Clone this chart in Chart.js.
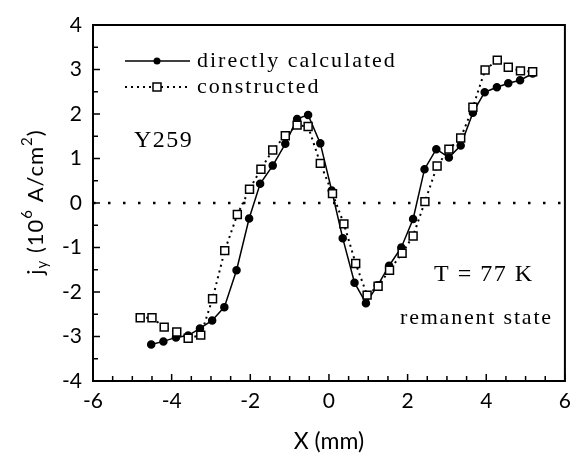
<!DOCTYPE html>
<html>
<head>
<meta charset="utf-8">
<script src="https://cdn.jsdelivr.net/npm/chart.js@4"></script>
<style>
  html, body { margin: 0; padding: 0; background: #fff; }
  #wrap { width: 579px; height: 455px; }
</style>
</head>
<body>
<div id="wrap"><canvas id="jyChart" width="579" height="455"></canvas></div>
<script>
// current density profile across the sample, Y259 at 77 K
const xDirect = [-4.52, -4.21, -3.89, -3.58, -3.28, -2.97, -2.66, -2.35, -2.03, -1.75, -1.43,
  -1.11, -0.81, -0.53, -0.22, 0.07, 0.35, 0.65, 0.94, 1.24, 1.53, 1.84, 2.14, 2.43, 2.73,
  3.05, 3.35, 3.66, 3.96, 4.27, 4.56, 4.86, 5.18];
const jDirect = [-3.18, -3.11, -3.02, -2.98, -2.82, -2.64, -2.34, -1.51, -0.35, 0.43, 0.84,
  1.33, 1.89, 1.98, 1.34, 0.28, -0.79, -1.79, -2.25, -1.85, -1.41, -1.0, -0.36, 0.76, 1.21,
  1.02, 1.29, 2.03, 2.49, 2.60, 2.69, 2.76, 2.91];

const xConstructed = [-4.80, -4.50, -4.19, -3.87, -3.58, -3.26, -2.96, -2.65, -2.33, -2.02,
  -1.73, -1.43, -1.11, -0.81, -0.53, -0.22, 0.09, 0.38, 0.68, 0.97, 1.25, 1.54, 1.86, 2.14,
  2.44, 2.75, 3.05, 3.35, 3.66, 3.97, 4.28, 4.56, 4.87, 5.18];
const jConstructed = [-2.58, -2.58, -2.79, -2.90, -3.04, -2.97, -2.15, -1.07, -0.26, 0.31,
  0.76, 1.19, 1.51, 1.75, 1.72, 0.89, 0.21, -0.47, -1.36, -2.07, -1.87, -1.51, -1.13, -0.74,
  0.03, 0.83, 1.21, 1.46, 2.15, 2.99, 3.21, 3.05, 2.97, 2.95];

const xRange = [-6, 6];
const yRange = [-4, 4];
const seriesNames = ["directly calculated", "constructed"];

const toPoints = (xs, ys) => xs.map((x, i) => ({ x: x, y: ys[i] }));

const serif = "'Liberation Serif', 'DejaVu Serif', serif";
const sans = "Lato, 'DejaVu Sans', sans-serif";

function spacedText(ctx, text, x, y, font, spacing) {
  ctx.font = font;
  ctx.letterSpacing = spacing + "px";
  ctx.fillText(text, x, y);
  ctx.letterSpacing = "0px";
}

// frame, inward ticks, legend, notes and the y title
const decorations = {
  id: "decorations",
  afterDraw(chart) {
    const ctx = chart.ctx;
    const a = chart.chartArea;
    const xs = chart.scales.x;
    const ys = chart.scales.y;
    ctx.save();
    ctx.strokeStyle = "#000";
    ctx.lineWidth = 2;
    ctx.strokeRect(a.left, a.top, a.right - a.left, a.bottom - a.top);

    ctx.lineWidth = 1.5;
    ctx.beginPath();
    for (let v = xRange[0]; v <= xRange[1]; v += 0.5) {
      const px = xs.getPixelForValue(v);
      const len = v % 2 === 0 ? 7 : 5;
      ctx.moveTo(px, a.bottom);
      ctx.lineTo(px, a.bottom - len);
    }
    for (let v = yRange[0]; v <= yRange[1]; v += 0.5) {
      const py = ys.getPixelForValue(v);
      const len = Number.isInteger(v) ? 7 : 5;
      ctx.moveTo(a.left, py);
      ctx.lineTo(a.left + len, py);
    }
    ctx.stroke();

    // legend
    const lx0 = 125, lx1 = 190, lm = 157;
    ctx.lineWidth = 1.5;
    ctx.setLineDash([]);
    ctx.beginPath();
    ctx.moveTo(lx0, 61);
    ctx.lineTo(lx1, 61);
    ctx.stroke();
    ctx.beginPath();
    ctx.arc(lm, 61, 3.5, 0, Math.PI * 2);
    ctx.fillStyle = "#000";
    ctx.fill();

    ctx.lineWidth = 2;
    ctx.setLineDash([2, 4]);
    ctx.beginPath();
    ctx.moveTo(lx0, 87);
    ctx.lineTo(lx1, 87);
    ctx.stroke();
    ctx.setLineDash([]);
    ctx.fillStyle = "#fff";
    ctx.fillRect(lm - 4, 83, 8, 8);
    ctx.lineWidth = 1.5;
    ctx.strokeRect(lm - 4, 83, 8, 8);

    ctx.fillStyle = "#000";
    ctx.textAlign = "left";
    ctx.textBaseline = "middle";
    spacedText(ctx, seriesNames[0], 197, 61, "22px " + serif, 2);
    spacedText(ctx, seriesNames[1], 197, 87, "22px " + serif, 2);

    spacedText(ctx, "Y259", 134, 141, "24px " + serif, 1.5);
    spacedText(ctx, "T = 77 K", 434, 275, "24px " + serif, 1.5);
    spacedText(ctx, "remanent state", 400, 318, "22px " + serif, 1.8);

    // y title with subscript and superscripts
    ctx.translate(36, 202);
    ctx.rotate(-Math.PI / 2);
    ctx.letterSpacing = "1px";
    const parts = [
      ["j", 22, 0], ["y", 15, 6], [" (10", 22, 0], ["6", 15, -9],
      [" A/cm", 22, 0], ["2", 15, -9], [")", 22, 0]
    ];
    let total = 0;
    parts.forEach(p => { ctx.font = p[1] + "px " + sans; total += ctx.measureText(p[0]).width; });
    let cx = -total / 2;
    parts.forEach(p => {
      ctx.font = p[1] + "px " + sans;
      ctx.fillText(p[0], cx, p[2]);
      cx += ctx.measureText(p[0]).width;
    });
    ctx.letterSpacing = "0px";
    ctx.restore();
  }
};

new Chart(document.getElementById("jyChart").getContext("2d"), {
  type: "scatter",
  data: {
    datasets: [
      {
        label: "zero",
        data: [{ x: xRange[0], y: 0 }, { x: xRange[1], y: 0 }],
        showLine: true,
        borderColor: "#000",
        borderWidth: 2.5,
        borderDash: [2.5, 12.5],
        pointRadius: 0,
        order: 3,
      },
      {
        label: seriesNames[1],
        data: toPoints(xConstructed, jConstructed),
        showLine: true,
        borderColor: "#000",
        borderWidth: 2,
        borderDash: [2, 4],
        pointStyle: "rect",
        pointRadius: 5.6,
        pointBackgroundColor: "#fff",
        pointBorderColor: "#000",
        pointBorderWidth: 1.5,
        order: 1,
      },
      {
        label: seriesNames[0],
        data: toPoints(xDirect, jDirect),
        showLine: true,
        borderColor: "#000",
        borderWidth: 1.5,
        pointStyle: "circle",
        pointRadius: 3.5,
        pointBackgroundColor: "#000",
        pointBorderColor: "#000",
        order: 2,
      },
    ],
  },
  options: {
    responsive: false,
    animation: false,
    layout: { padding: { left: 0, right: 10, top: 25, bottom: 0 } },
    plugins: {
      legend: { display: false },
      tooltip: { enabled: false },
    },
    scales: {
      x: {
        type: "linear",
        min: xRange[0],
        max: xRange[1],
        grid: { display: false, drawTicks: false },
        border: { display: false },
        ticks: {
          stepSize: 2,
          color: "#000",
          padding: 8,
          font: { family: sans, size: 21 },
          maxRotation: 0,
        },
        title: {
          display: true,
          text: "X (mm)",
          color: "#000",
          font: { family: sans, size: 23 },
          padding: { top: 4, bottom: 0 },
        },
        afterFit(scale) { scale.height = 74; },
      },
      y: {
        min: yRange[0],
        max: yRange[1],
        grid: { display: false, drawTicks: false },
        border: { display: false },
        ticks: {
          stepSize: 1,
          color: "#000",
          padding: 11,
          font: { family: sans, size: 21 },
        },
        afterFit(scale) { scale.width = 93; },
      },
    },
  },
  plugins: [decorations],
});
</script>
</body>
</html>
